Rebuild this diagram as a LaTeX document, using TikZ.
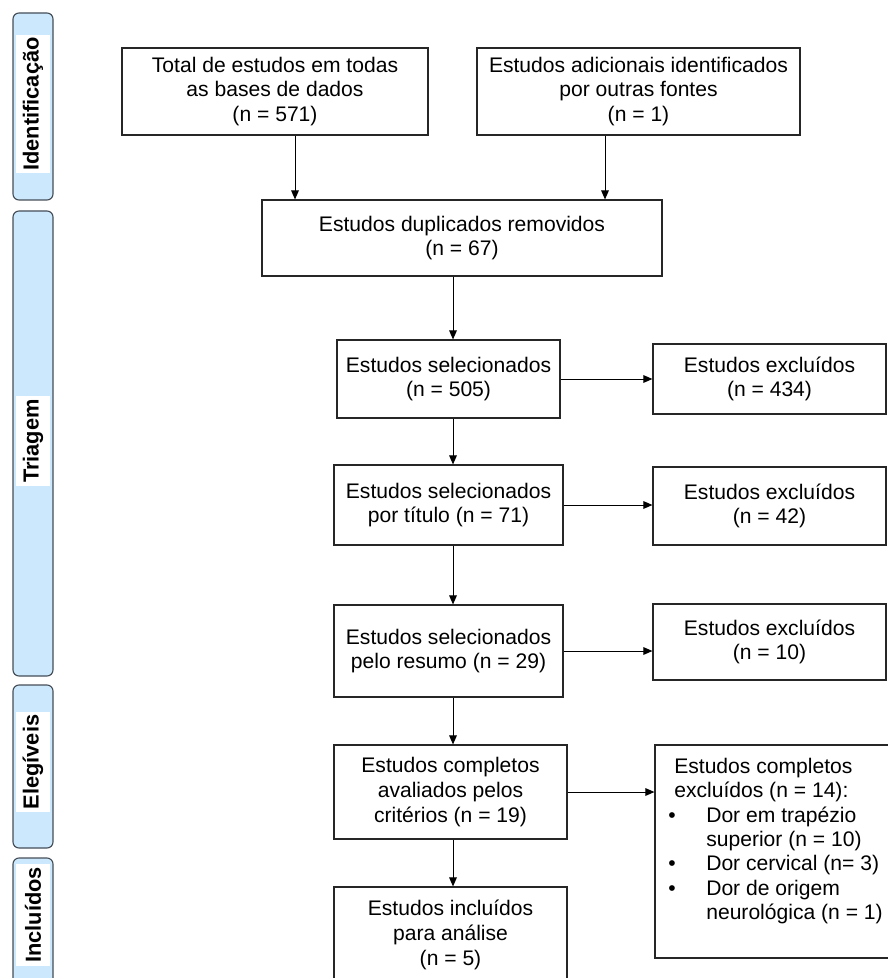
\documentclass[tikz,border=0pt]{standalone}
\usepackage{fontspec}
\setmainfont{Liberation Sans}
\usetikzlibrary{arrows.meta}
\definecolor{stagefill}{RGB}{204,232,252}
\definecolor{stageline}{RGB}{70,78,88}
\newcommand{\bitem}{\makebox[0.8cm][l]{\hspace{-0.15cm}\textbullet}}
\tikzset{
  box/.style={draw=black!85, line width=0.8pt, align=center, inner sep=2pt,
    font=\fontsize{15}{17.5}\selectfont},
  arrow/.style={-{Triangle[length=6.5pt,width=5.5pt]}, line width=0.7pt},
  stage/.style={draw=stageline, fill=stagefill, line width=0.8pt, rounded corners=0.15cm},
  stagelabel/.style={rotate=90, fill=white, inner xsep=2pt, minimum height=0.85cm,
    font=\fontsize{15.5}{17}\selectfont\bfseries}
}
\begin{document}
\begin{tikzpicture}[x=0.025cm,y=-0.025cm]
  \useasboundingbox (0,0) rectangle (887,978);
%stages on the left
  \draw[stage] (13,13) rectangle (53,200);
  \node[stagelabel] (ident) at (33,104) {Identificação};
  \draw[stage] (13,211) rectangle (53,676);
  \node[stagelabel] (triag) at (33,441) {Triagem};
  \draw[stage] (13,685) rectangle (53,848);
  \node[stagelabel] (eleg) at (33,762) {Elegíveis};
  \draw[stage] (13,858) rectangle (53,1000);
  \node[stagelabel] (incl) at (33,915) {Incluídos};
%identification
  \node[box, minimum width=7.65cm, minimum height=2.175cm] (total) at (275,91.5)
    {Total de estudos em todas\\as bases de dados\\(n = 571)};
  \node[box, minimum width=8.075cm, minimum height=2.175cm] (adic) at (638.5,91.5)
    {Estudos adicionais identificados\\por outras fontes\\(n = 1)};
  \node[box, minimum width=10cm, minimum height=1.9cm] (dupl) at (462,238)
    {Estudos duplicados removidos\\(n = 67)};
%main column
  \node[box, minimum width=5.575cm, minimum height=1.95cm] (sel) at (448.5,379)
    {Estudos selecionados\\(n = 505)};
  \node[box, minimum width=5.725cm, minimum height=2cm] (titulo) at (448.5,505)
    {Estudos selecionados\\por título (n = 71)};
  \node[box, minimum width=5.725cm, minimum height=2.3cm] (resumo) at (448.5,651)
    {Estudos selecionados\\pelo resumo (n = 29)};
  \node[box, minimum width=5.825cm, minimum height=2.35cm] (compl) at (450.5,792)
    {Estudos completos\\avaliados pelos\\critérios (n = 19)};
  \node[box, minimum width=5.825cm, minimum height=2.4cm] (inclu) at (450.5,935)
    {Estudos incluídos\\para análise\\(n = 5)};
%excluded
  \node[box, minimum width=5.825cm, minimum height=1.75cm] (exc1) at (769.5,379)
    {Estudos excluídos\\(n = 434)};
  \node[box, minimum width=5.825cm, minimum height=1.95cm] (exc2) at (769.5,506)
    {Estudos excluídos\\(n = 42)};
  \node[box, minimum width=5.825cm, minimum height=1.9cm] (exc3) at (769.5,642)
    {Estudos excluídos\\(n = 10)};
  \node[box, minimum width=5.875cm, minimum height=5.325cm] (exc4) at (772.5,851.5) {};
  \node[anchor=north west, inner sep=0pt, align=left, font=\fontsize{15}{17.3}\selectfont]
    (exc4txt) at (674,758)
    {Estudos completos\\
     excluídos (n = 14):\\
     \bitem Dor em trapézio\\
     \hspace*{0.8cm}superior (n = 10)\\
     \bitem Dor cervical (n= 3)\\
     \bitem Dor de origem\\
     \hspace*{0.8cm}neurológica (n = 1)};
%connectors
  \coordinate (a1) at (295,0);
  \coordinate (a2) at (605,0);
  \coordinate (spine) at (453,0);
  \draw[arrow] (total.south -| a1) -- (dupl.north -| a1);
  \draw[arrow] (adic.south -| a2) -- (dupl.north -| a2);
  \draw[arrow] (dupl.south -| spine) -- (sel.north -| spine);
  \draw[arrow] (sel.south -| spine) -- (titulo.north -| spine);
  \draw[arrow] (titulo.south -| spine) -- (resumo.north -| spine);
  \draw[arrow] (resumo.south -| spine) -- (compl.north -| spine);
  \draw[arrow] (compl.south -| spine) -- (inclu.north -| spine);
  \draw[arrow] (sel.east) -- (sel.east -| exc1.west);
  \draw[arrow] (titulo.east) -- (titulo.east -| exc2.west);
  \draw[arrow] (resumo.east) -- (resumo.east -| exc3.west);
  \draw[arrow] (compl.east) -- (compl.east -| exc4.west);
\end{tikzpicture}
\end{document}
